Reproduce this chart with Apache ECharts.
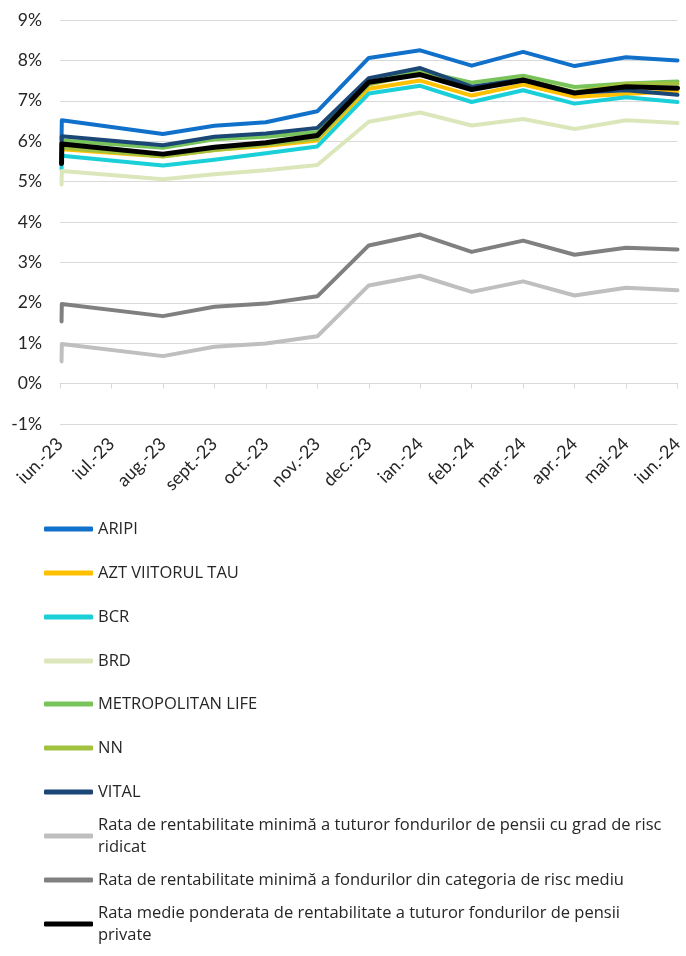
<!DOCTYPE html>
<html>
<head>
<meta charset="utf-8">
<script src="https://cdn.jsdelivr.net/npm/echarts@6/dist/echarts.min.js"></script>
<style>
html, body { margin: 0; padding: 0; background: #fff; }
#main { width: 686px; height: 956px; }
</style>
</head>
<body>
<div id="main"></div>
<script>
// luni afisate pe axa x
var months = ['iun.-23', 'iul.-23', 'aug.-23', 'sept.-23', 'oct.-23', 'nov.-23', 'dec.-23',
  'ian.-24', 'feb.-24', 'mar.-24', 'apr.-24', 'mai-24', 'iun.-24'];
// pozitia fiecarei observatii (index de luna)
var xPos = [0.03, 0.035, 2, 3, 4, 5, 6, 7, 8, 9, 10, 11, 12];

var aripi        = [6.05, 6.52, 6.18, 6.38, 6.47, 6.74, 8.06, 8.25, 7.87, 8.21, 7.86, 8.08, 8.00];
var azt          = [5.60, 5.80, 5.62, 5.78, 5.88, 6.02, 7.30, 7.50, 7.13, 7.40, 7.10, 7.17, 7.24];
var bcr          = [5.30, 5.64, 5.40, 5.54, 5.70, 5.87, 7.18, 7.37, 6.97, 7.26, 6.93, 7.09, 6.97];
var brd          = [4.93, 5.26, 5.06, 5.18, 5.28, 5.41, 6.48, 6.71, 6.39, 6.55, 6.30, 6.52, 6.45];
var metropolitan = [5.80, 6.02, 5.84, 6.05, 6.11, 6.23, 7.50, 7.74, 7.45, 7.62, 7.34, 7.43, 7.48];
var nn           = [5.55, 5.84, 5.63, 5.78, 5.91, 6.06, 7.40, 7.68, 7.32, 7.55, 7.22, 7.42, 7.42];
var vital        = [5.95, 6.12, 5.90, 6.11, 6.19, 6.33, 7.56, 7.81, 7.35, 7.53, 7.20, 7.26, 7.15];
var riscRidicat  = [0.55, 0.98, 0.68, 0.91, 0.99, 1.17, 2.43, 2.67, 2.27, 2.53, 2.18, 2.37, 2.31];
var riscMediu    = [1.54, 1.97, 1.67, 1.90, 1.98, 2.16, 3.42, 3.69, 3.26, 3.54, 3.19, 3.36, 3.32];
var medie        = [5.45, 5.93, 5.68, 5.85, 5.96, 6.14, 7.46, 7.65, 7.28, 7.51, 7.19, 7.35, 7.31];

var names = ['ARIPI', 'AZT VIITORUL TAU', 'BCR', 'BRD', 'METROPOLITAN LIFE', 'NN', 'VITAL',
  'Rata de rentabilitate minimă a tuturor fondurilor de pensii cu grad de risc ridicat',
  'Rata de rentabilitate minimă a fondurilor din categoria de risc mediu',
  'Rata medie ponderata de rentabilitate a tuturor fondurilor de pensii private'];
var colors = ['#1170c9', '#ffc000', '#1acfd8', '#dbe7bb', '#78c45a', '#a2c23e', '#1a4776',
  '#bfbfbf', '#808080', '#000000'];

var FONT = 'Lato';
var TXT = '#262626';
var legendY = [529, 573, 617, 661, 704, 748, 792, 836, 880, 924];

var myChart = echarts.init(document.getElementById('main'));

var allData = [aripi, azt, bcr, brd, metropolitan, nn, vital, riscRidicat, riscMediu, medie];
var series = allData.map(function (vals, i) {
  return {
    name: names[i],
    type: 'line',
    xAxisIndex: 0,
    symbol: 'none',
    silent: true,
    data: vals.map(function (v, j) { return [xPos[j], v]; }),
    lineStyle: { width: i == 9 ? 5 : 4, color: colors[i], cap: 'round', join: 'round' },
    itemStyle: { color: colors[i] }
  };
});

// cate o legenda pentru fiecare serie, ca sa pastram spatierea din original
var legends = names.map(function (n, i) {
  var twoLines = (i == 7 || i == 9);
  return {
    data: [n],
    orient: 'vertical',
    left: 44,
    top: legendY[i] - 2.5 - (twoLines ? 30.5 : 8.5),
    padding: 0,
    icon: 'roundRect',
    itemWidth: 49,
    itemHeight: 5,
    itemGap: 0,
    selectedMode: false,
    formatter: function (name) {
      return name.replace(' de risc ridicat', ' de risc\nridicat').replace(' private', '\nprivate');
    },
    textStyle: {
      fontFamily: 'Open Sans', fontSize: 16.5, color: TXT, lineHeight: 22,
      padding: twoLines ? [22, 0, 0, 0] : 0
    }
  };
});

myChart.setOption({
  animation: false,
  grid: { left: 60, right: 7, top: 20, height: 404 },
  legend: legends,
  xAxis: [{
    type: 'value', min: 0, max: 12, interval: 1, position: 'bottom',
    axisLine: { show: false, onZero: false },
    axisTick: { show: false },
    splitLine: { show: false },
    axisLabel: {
      rotate: 45, margin: 17, fontFamily: FONT, fontSize: 18, color: TXT,
      formatter: function (v) { return months[v]; }
    }
  }, {
    type: 'value', min: 0, max: 12, interval: 1, position: 'bottom',
    axisLine: { show: true, onZero: true, lineStyle: { color: '#d9d9d9', width: 1 } },
    axisTick: { show: true, length: 5, lineStyle: { color: '#d9d9d9' } },
    axisLabel: { show: false },
    splitLine: { show: false }
  }],
  yAxis: {
    type: 'value', min: -1, max: 9, interval: 1,
    axisLine: { show: false },
    axisTick: { show: false },
    axisLabel: { formatter: '{value}%', margin: 18, fontFamily: FONT, fontSize: 17.5, color: TXT },
    splitLine: { lineStyle: { color: '#d9d9d9', width: 1.2 } }
  },
  series: series
});
</script>
</body>
</html>
